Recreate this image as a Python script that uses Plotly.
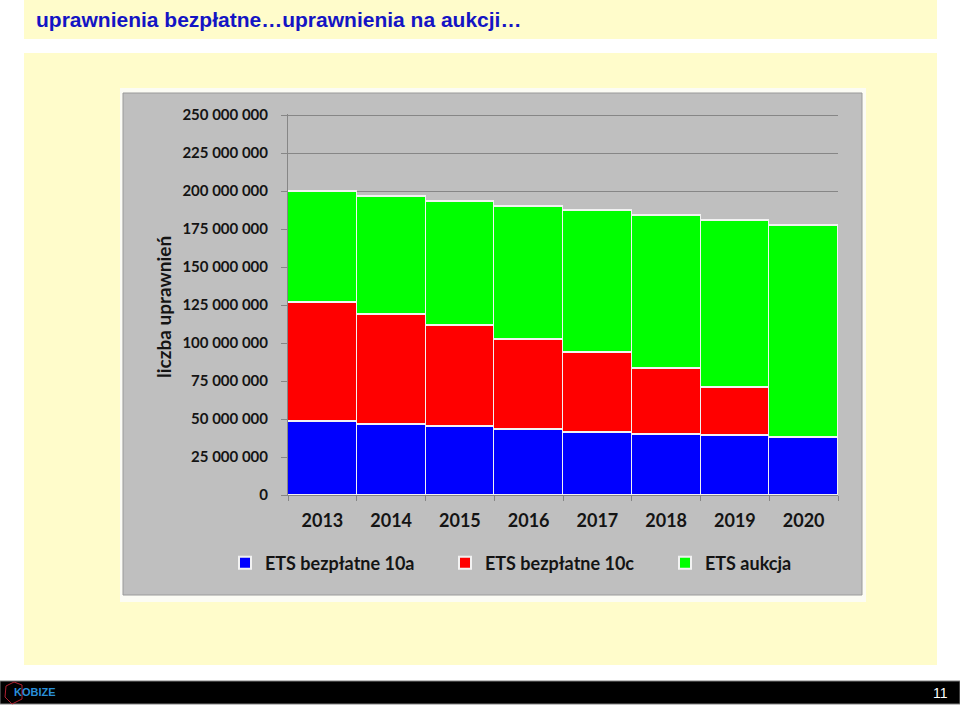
import plotly.graph_objects as go

# ---- data ----
years = ["2013", "2014", "2015", "2016", "2017", "2018", "2019", "2020"]
ets_10a = [48.5e6, 46.3e6, 44.8e6, 43.0e6, 40.8e6, 39.7e6, 39.0e6, 37.7e6]
ets_10c = [78.3e6, 72.7e6, 66.5e6, 59.5e6, 52.9e6, 43.6e6, 31.8e6, 0]
ets_aukcja = [72.7e6, 77.6e6, 82.0e6, 87.5e6, 93.3e6, 100.4e6, 109.8e6, 139.8e6]
series_names = ["ETS bezpłatne 10a", "ETS bezpłatne 10c", "ETS aukcja"]
y_ticks = [0, 25e6, 50e6, 75e6, 100e6, 125e6, 150e6, 175e6, 200e6, 225e6, 250e6]

W, H = 960, 705
def px(x):
    return x / W
def py(y):
    return 1 - y / H

colors = ["#0000FF", "#FF0000", "#00FF00"]
TXT = "#141414"
FONT = "Lato"

fig = go.Figure()
for name, vals, col in zip(series_names, [ets_10a, ets_10c, ets_aukcja], colors):
    fig.add_trace(go.Bar(
        x=years, y=vals, name=name,
        marker=dict(color=col, line=dict(color="#F2F2F2", width=1.5)),
        hoverinfo="x+y+name",
    ))

shapes = [
    # title band
    dict(type="rect", xref="paper", yref="paper", x0=px(24), x1=px(937), y0=py(39), y1=py(0),
         fillcolor="#FFFCCB", line=dict(width=0), layer="below"),
    # main content band
    dict(type="rect", xref="paper", yref="paper", x0=px(24), x1=px(937), y0=py(665), y1=py(53),
         fillcolor="#FFFCCB", line=dict(width=0), layer="below"),
    # white excel margin around the chart picture
    dict(type="rect", xref="paper", yref="paper", x0=px(120), x1=px(866), y0=py(602), y1=py(88),
         fillcolor="#FCFCF4", line=dict(width=0), layer="below"),
    # chart gray area
    dict(type="rect", xref="paper", yref="paper", x0=px(123), x1=px(862), y0=py(595), y1=py(93),
         fillcolor="#BFBFBF", line=dict(color="#9A9A9A", width=1), layer="below"),
    # footer
    dict(type="rect", xref="paper", yref="paper", x0=px(0), x1=px(960), y0=py(704), y1=py(681),
         fillcolor="#000000", line=dict(color="#7F7F7F", width=1), layer="below"),
    # logo outline (red)
    dict(type="path", xref="paper", yref="paper",
         path=f"M {px(6)},{py(686)} L {px(14)},{py(682)} L {px(22)},{py(685)} L {px(22)},{py(699)} L {px(12)},{py(704)} L {px(5)},{py(697)} Z",
         line=dict(color="#B02030", width=1), fillcolor="rgba(0,0,0,0)", layer="below"),
]

annotations = [
    dict(text="<b>uprawnienia bezpłatne…uprawnienia na aukcji…</b>", xref="paper", yref="paper",
         x=px(34), y=py(19), xanchor="left", yanchor="middle", showarrow=False,
         font=dict(family="Liberation Sans", size=21, color="#1414C4")),
    dict(text="<b>liczba uprawnień</b>", xref="paper", yref="paper",
         x=px(163), y=py(307), xanchor="center", yanchor="middle", textangle=-90, showarrow=False,
         font=dict(family=FONT, size=19, color=TXT)),
    dict(text="<b>KOBIZE</b>", xref="paper", yref="paper",
         x=px(12), y=py(692), xanchor="left", yanchor="middle", showarrow=False,
         font=dict(family="Liberation Sans", size=11, color="#2A8FD8")),
    dict(text="11", xref="paper", yref="paper",
         x=px(950), y=py(693), xanchor="right", yanchor="middle", showarrow=False,
         font=dict(family="Liberation Sans", size=14, color="#FFFFFF")),
]

fig.update_layout(
    width=W, height=H,
    margin=dict(l=0, r=0, t=0, b=0, pad=0, autoexpand=False),
    paper_bgcolor="#FFFFFF",
    plot_bgcolor="rgba(0,0,0,0)",
    barmode="stack", bargap=0,
    separators=", ",
    showlegend=True,
    legend=dict(orientation="h", x=px(225), y=py(563), xanchor="left", yanchor="middle",
                bgcolor="rgba(0,0,0,0)",
                font=dict(family=FONT, size=18, color=TXT, weight="bold"),
                traceorder="normal", itemsizing="constant",
                entrywidth=175, entrywidthmode="pixels"),
    shapes=shapes,
    annotations=annotations,
    xaxis=dict(domain=[px(288), px(838)], type="category",
               showgrid=False, showline=True, linecolor="#868686", linewidth=1,
               ticks="outside", tickson="boundaries", ticklen=5, tickcolor="#868686",
               tickfont=dict(family=FONT, size=18, color=TXT, weight="bold"),
               ticklabelstandoff=9, fixedrange=True),
    yaxis=dict(domain=[py(495), py(113.5)], range=[0, 251e6],
               tickvals=y_ticks, tickformat=",.0f",
               showgrid=True, gridcolor="#868686", gridwidth=1,
               showline=True, linecolor="#868686", linewidth=1,
               ticks="outside", ticklen=6, tickcolor="#868686",
               tickfont=dict(family=FONT, size=15, color=TXT, weight="bold"),
               ticklabelstandoff=10, zeroline=False, fixedrange=True),
)

fig.write_html("out.html", config={"displayModeBar": False},
               post_script="document.body.style.margin='0';document.body.style.overflow='hidden';")
